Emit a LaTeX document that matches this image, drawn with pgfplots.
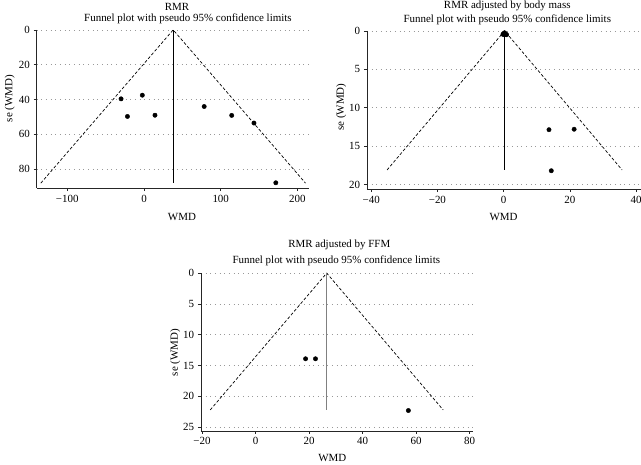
\documentclass[border=0pt]{standalone}
\usepackage{pgfplots}
\pgfplotsset{compat=1.18}
\usepackage{fontspec}
\setmainfont{Liberation Serif}
\begin{document}
\fontsize{11}{13}\selectfont
\pgfplotsset{
  funnel/.style={
    scale only axis,
    anchor=south west,
    y dir=reverse,
    axis x line*=bottom,
    axis y line*=left,
    axis line style={-, black!85, line width=0.7pt},
    tick align=outside,
    major tick length=3pt,
    tick style={black!85, line width=0.6pt},
    ymajorgrids,
    major grid style={gray!80, line width=0.6pt, dash pattern=on 0.7pt off 4pt},
    tick label style={font=\fontsize{11}{13}\selectfont},
    /pgf/number format/assume math mode=true,
    clip=false,
  },
  dot/.style={only marks, mark=*, mark size=2.2pt, black},
  cone/.style={black, line width=0.7pt, dash pattern=on 3pt off 2pt},
}
\begin{tikzpicture}[x=1pt,y=1pt]
\path[use as bounding box] (0,0) rectangle (641,466);

% ---------- Plot 1: RMR ----------
\begin{axis}[funnel, at={(34pt,277pt)}, width=274pt, height=159pt,
  xmin=-140, xmax=215.6, ymin=0, ymax=90.9,
  xtick={-100,0,100,200}, xticklabels={−100,0,100,200},
  ytick={0,20,40,60,80}]
\addplot[cone] coordinates {(-134.5,88) (38,0) (210.5,88)};
\addplot[black, line width=0.7pt] coordinates {(38,0) (38,88)};
\addplot[dot] coordinates {(-29.9,39.6) (-2.2,37.5) (-21.6,49.7) (14.3,49) (78.4,44) (114.3,49.1) (143.3,53.5) (171.8,87.8)};
\end{axis}
\node at (175,459.5) {RMR};
\node at (186,447.5) {Funnel plot with pseudo 95\% confidence limits};
\node at (180,248) {WMD};
\node[rotate=90] at (7,367) {se (WMD)};

% ---------- Plot 2: body mass ----------
\begin{axis}[funnel, at={(365.7pt,276pt)}, width=275.3pt, height=159pt,
  xmin=-41.3, xmax=41.5, ymin=0, ymax=20.6,
  xtick={-40,-20,0,20,40}, xticklabels={−40,−20,0,20,40},
  ytick={0,5,10,15,20}]
\addplot[cone] coordinates {(-35.2,18.1) (0.3,0) (35.8,18.1)};
\addplot[black, line width=0.7pt] coordinates {(0.3,0) (0.3,18.1)};
\addplot[dot] coordinates {(0.0,0.35) (0.3,0.25) (0.6,0.4) (0.9,0.5) (0.2,0.5) (-0.2,0.45) (13.7,12.86) (21.3,12.8) (14.4,18.2)};
\end{axis}
\node at (506.7,460) {RMR adjusted by body mass};
\node at (506.7,446.5) {Funnel plot with pseudo 95\% confidence limits};
\node at (503,248) {WMD};
\node[rotate=90] at (340,358.5) {se (WMD)};

% ---------- Plot 3: FFM ----------
\begin{axis}[funnel, at={(199pt,33.3pt)}, width=273.7pt, height=158.4pt,
  xmin=-20.4, xmax=81.4, ymin=0, ymax=25.6,
  xtick={-20,0,20,40,60,80}, xticklabels={−20,0,20,40,60,80},
  ytick={0,5,10,15,20,25}]
\addplot[cone] coordinates {(-16.9,22.2) (26.6,0) (70.1,22.2)};
\addplot[gray, line width=0.8pt] coordinates {(26.6,0) (26.6,22.2)};
\addplot[dot] coordinates {(18.7,13.9) (22.4,13.9) (57.1,22.3)};
\end{axis}
\node at (338,220) {RMR adjusted by FFM};
\node at (335,204.3) {Funnel plot with pseudo 95\% confidence limits};
\node at (331,6) {WMD};
\node[rotate=90] at (173.3,112) {se (WMD)};
\end{tikzpicture}
\end{document}
